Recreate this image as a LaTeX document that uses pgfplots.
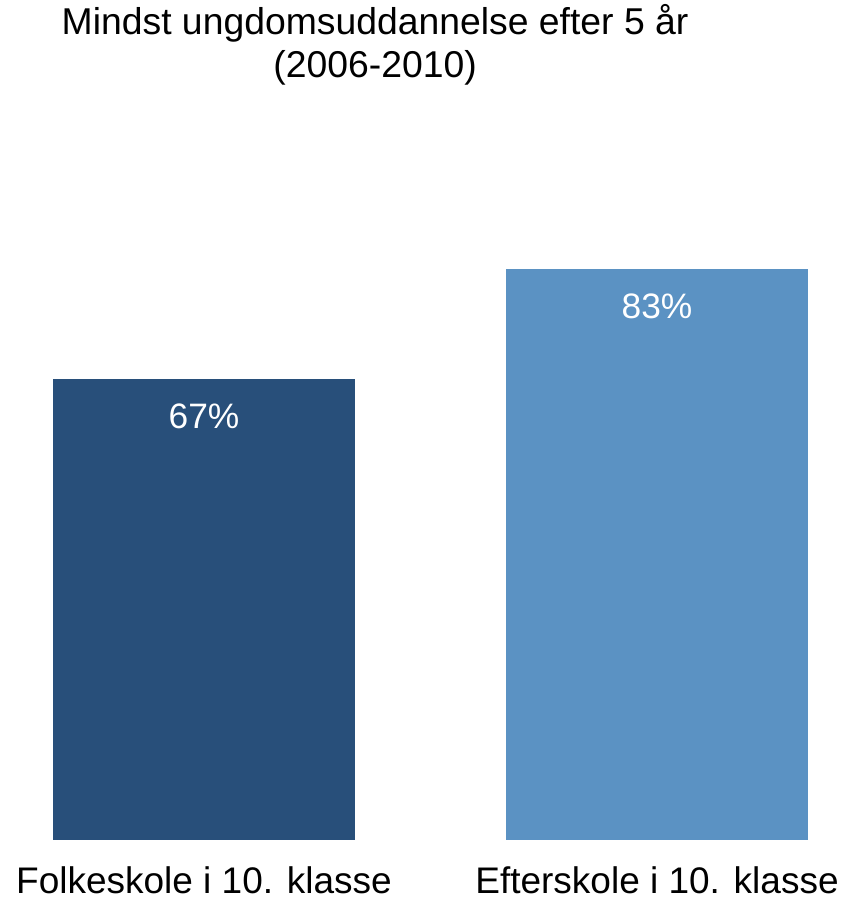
\documentclass[border=0pt]{standalone}
\usepackage{pgfplots}
\pgfplotsset{compat=1.18}
\usepackage{fontspec}
\setmainfont{Liberation Sans}
\definecolor{darkbar}{HTML}{284F7A}
\definecolor{lightbar}{HTML}{5B92C3}
\begin{document}
\begin{tikzpicture}
% 1 px of the reference = 0.75pt
\useasboundingbox (0,-47pt) rectangle (630.75pt,630.25pt);
\begin{axis}[
    at={(0,0)}, anchor=south west,
    scale only axis,
    width=630.75pt, height=632.25pt,
    xmin=-0.4503, xmax=1.4062,
    ymin=0, ymax=122.5,
    ybar, bar width=226.5pt, bar shift=0pt,
    axis line style={draw=none},
    major tick length=0pt,
    ytick=\empty,
    xtick={0,1},
    xticklabels={Folkeskole i 10. klasse, Efterskole i 10. klasse},
    xticklabel style={anchor=base, yshift=-40pt, inner sep=0pt, outer sep=0pt,
        font=\fontsize{27.75}{33}\selectfont},
    /pgf/number format/assume math mode=true,
    nodes near coords={\pgfmathprintnumber{\pgfplotspointmeta}\%},
    every node near coord/.append style={anchor=base, yshift=-36.75pt, text=white,
        font=\fontsize{26.5}{30}\selectfont},
    clip=false,
]
\addplot[fill=darkbar, draw=none] coordinates {(0,67)};
\addplot[fill=lightbar, draw=none] coordinates {(1,83)};
\node[anchor=base, font=\fontsize{28}{34}\selectfont] at (rel axis cs:0.446,0.9561) {Mindst ungdomsuddannelse efter 5 år};
\node[anchor=base, font=\fontsize{28}{34}\selectfont] at (rel axis cs:0.446,0.9051) {(2006-2010)};
\end{axis}
\end{tikzpicture}
\end{document}
